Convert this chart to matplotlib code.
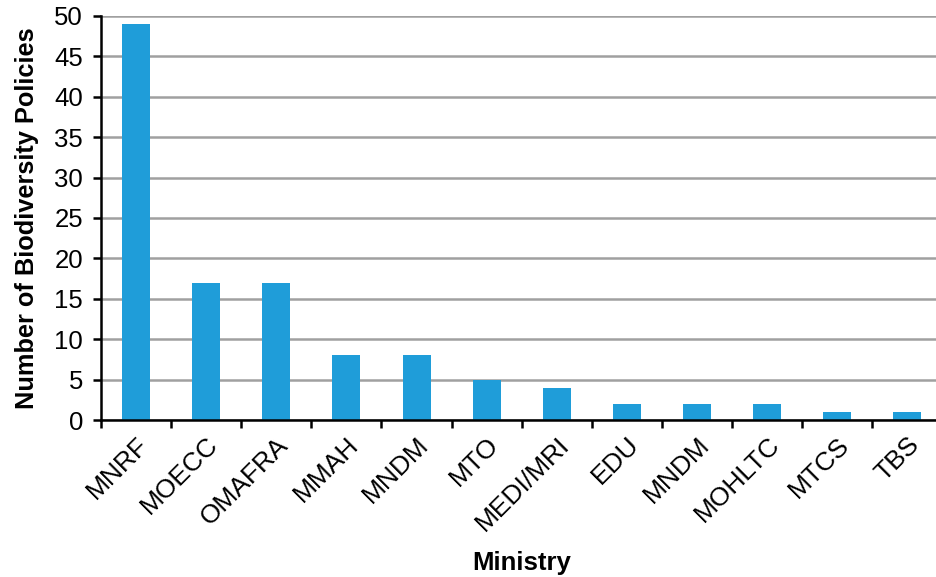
import matplotlib.pyplot as plt
import numpy as np

ministries = ['MNRF', 'MOECC', 'OMAFRA', 'MMAH', 'MNDM', 'MTO', 'MEDI/MRI',
              'EDU', 'MNDM', 'MOHLTC', 'MTCS', 'TBS']
policies = [49, 17, 17, 8, 8, 5, 4, 2, 2, 2, 1, 1]

plt.rcParams['font.family'] = ['Liberation Sans', 'DejaVu Sans']

fig = plt.figure(figsize=(9.37, 5.77), dpi=100)
ax = fig.add_axes([0.1078, 0.272, 0.898, 0.7005])

x = np.arange(len(ministries))
ax.bar(x, policies, width=0.4, color='#1f9dd9', zorder=3)

ax.set_xlim(-0.5, len(ministries) - 0.5)
ax.set_ylim(0, 50)
ax.set_yticks(range(0, 51, 5))
ax.yaxis.grid(True, color='#a0a0a0', linewidth=1.8, zorder=0)

# ticks sit between the categories, labels under the bars
ax.set_xticks(np.arange(len(ministries) + 1) - 0.5)
ax.set_xticklabels([])
ax.set_xticks(x, minor=True)
ax.set_xticklabels(ministries, minor=True, rotation=45, ha='right',
                   rotation_mode='anchor', fontsize=19)
ax.tick_params(axis='x', which='major', length=6, width=1.8, direction='out')
ax.tick_params(axis='x', which='minor', length=0, pad=9)
ax.tick_params(axis='y', length=6, width=1.8, labelsize=18.5, pad=7)

for s in ['top', 'right']:
    ax.spines[s].set_visible(False)
for s in ['left', 'bottom']:
    ax.spines[s].set_linewidth(1.8)
    ax.spines[s].set_zorder(4)

ax.set_ylabel('Number of Biodiversity Policies', fontsize=18.3, fontweight='bold', labelpad=11)
fig.text(0.557, 0.012, 'Ministry', fontsize=18.5, fontweight='bold', ha='center')

fig.savefig('out.png', dpi=100)
